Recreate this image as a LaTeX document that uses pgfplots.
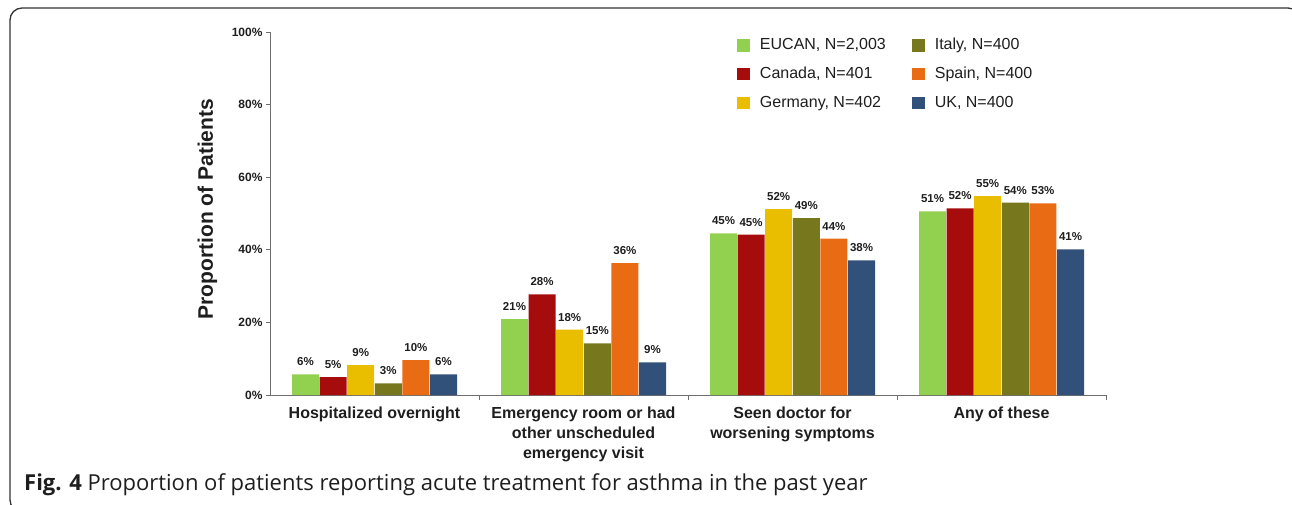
\documentclass[border=0pt]{standalone}
\usepackage{pgfplots}
\pgfplotsset{compat=1.18}
\usepackage{pgfplotstable}
\usepackage{fontspec}
\setmainfont{Liberation Sans}
\newfontfamily\capfont{Open Sans}
\definecolor{cEU}{RGB}{146,208,80}
\definecolor{cCA}{RGB}{166,12,12}
\definecolor{cDE}{RGB}{234,190,0}
\definecolor{cIT}{RGB}{119,120,30}
\definecolor{cES}{RGB}{233,108,20}
\definecolor{cUK}{RGB}{50,81,122}
\definecolor{txt}{RGB}{30,30,30}
\definecolor{axc}{RGB}{110,110,110}

\pgfplotstableread{
x y l
0 5.7 6
1 20.9 21
2 44.5 45
3 50.6 51
}\tEU
\pgfplotstableread{
x y l
0 4.9 5
1 27.7 28
2 44.2 45
3 51.4 52
}\tCA
\pgfplotstableread{
x y l
0 8.2 9
1 18.0 18
2 51.2 52
3 54.8 55
}\tDE
\pgfplotstableread{
x y l
0 3.2 3
1 14.2 15
2 48.7 49
3 53.0 54
}\tIT
\pgfplotstableread{
x y l
0 9.6 10
1 36.3 36
2 43.1 44
3 52.8 53
}\tES
\pgfplotstableread{
x y l
0 5.7 6
1 9.0 9
2 37.1 38
3 40.1 41
}\tUK

\begin{document}
\begin{tikzpicture}[x=1pt,y=1pt]
\useasboundingbox (0,0) rectangle (1292,504);
\draw[line width=1.3pt, black!80, rounded corners=12pt] (10,496) rectangle (1300,-8);
\begin{axis}[
  at={(270pt,109pt)}, anchor=south west,
  scale only axis, width=836pt, height=363pt,
  xmin=-0.5, xmax=3.5, ymin=0, ymax=100,
  axis x line*=bottom, axis y line*=left,
  axis line style={axc, line width=0.8pt, -},
  ybar=0.6pt, bar width=27pt,
  ytick={0,20,40,60,80,100},
  yticklabels={0\%,20\%,40\%,60\%,80\%,100\%},
  xtick={0,1,2,3},
  xticklabels={{Hospitalized overnight},{Emergency room or had\\other unscheduled\\emergency visit},{Seen doctor for\\worsening symptoms},{Any of these}},
  tick align=outside, major tick length=4pt,
  tick style={axc, line width=0.8pt},
  major x tick style={draw=none},
  extra x ticks={0.5,1.5,2.5,3.5}, extra x tick labels={},
  extra x tick style={major x tick style={draw=axc, line width=0.8pt}, major tick length=5pt},
  xticklabel style={font=\bfseries\fontsize{16}{20}\selectfont, align=center, text=txt, yshift=-4pt},
  yticklabel style={font=\bfseries\fontsize{12}{14}\selectfont, text=txt},
  ylabel={Proportion of Patients},
  ylabel style={font=\bfseries\fontsize{21}{24}\selectfont, text=txt, at={(axis description cs:-0.0682,0.512)}, anchor=base},
  point meta=explicit symbolic,
  nodes near coords={\pgfplotspointmeta\%},
  nodes near coords style={font=\bfseries\fontsize{11.5}{13}\selectfont, text=txt, anchor=base, inner sep=0pt, yshift=8.5pt},
  legend columns=3, transpose legend,
  legend cell align=left,
  legend image code/.code={\fill[#1] (0pt,-6pt) rectangle (13pt,6.5pt);},
  legend style={at={(rel axis cs:0.5586,0.983)}, anchor=north west, draw=none, fill=none, inner sep=0pt, outer sep=0pt,
    font=\fontsize{16}{19}\selectfont, text=txt, row sep=13.7pt,
    /tikz/every even column/.append style={column sep=26pt},
    /tikz/every odd column/.append style={column sep=10pt},
    nodes={inner sep=0pt, text height=11.5pt, text depth=3.5pt}},
]
\addplot[fill=cEU, draw=none] table[x=x,y=y,meta=l]{\tEU};
\addplot[fill=cCA, draw=none] table[x=x,y=y,meta=l]{\tCA};
\addplot[fill=cDE, draw=none] table[x=x,y=y,meta=l]{\tDE};
\addplot[fill=cIT, draw=none] table[x=x,y=y,meta=l]{\tIT};
\addplot[fill=cES, draw=none] table[x=x,y=y,meta=l]{\tES};
\addplot[fill=cUK, draw=none] table[x=x,y=y,meta=l]{\tUK};
\legend{{EUCAN, N=2,003},{Canada, N=401},{Germany, N=402},{Italy, N=400},{Spain, N=400},{UK, N=400}}
\end{axis}
\node[anchor=base west, inner sep=0pt, font=\capfont\fontsize{22}{25}\selectfont, text=txt] at (24,14) {\textbf{Fig. 4} Proportion of patients reporting acute treatment for asthma in the past year};
\end{tikzpicture}
\end{document}
